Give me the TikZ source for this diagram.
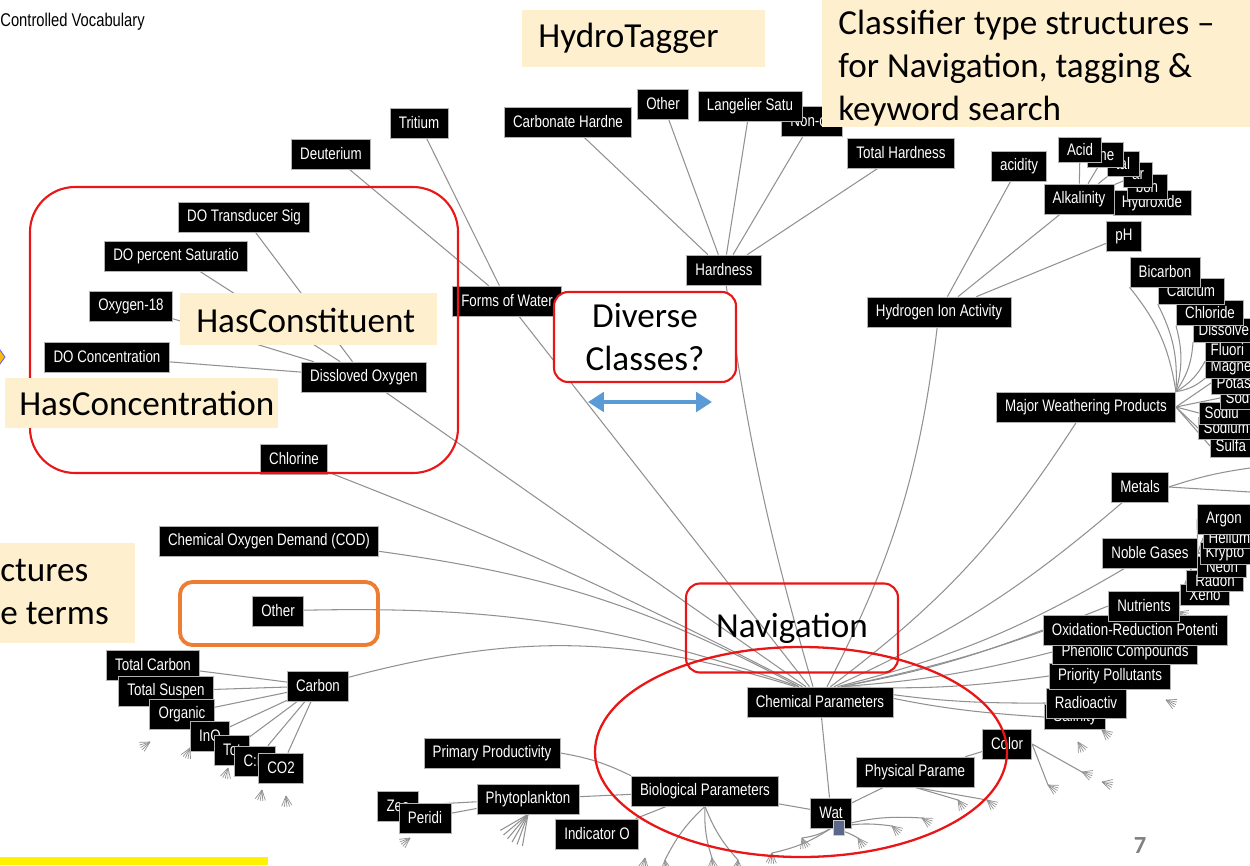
\documentclass[tikz,border=0pt]{standalone}
\usepackage{fontspec}
\newfontfamily\termfont[FakeStretch=0.8]{Liberation Sans}
\newfontfamily\slidefont{Carlito}
\usetikzlibrary{arrows.meta}
\usetikzlibrary{backgrounds}
\definecolor{calloutfill}{RGB}{254,240,206}
\definecolor{ringred}{RGB}{232,22,22}
\definecolor{otherorange}{RGB}{237,125,49}
\definecolor{arrowblue}{RGB}{91,155,213}
\definecolor{linkgray}{RGB}{145,145,145}
\definecolor{rootblue}{RGB}{90,104,140}

\begin{document}
\begin{tikzpicture}[x=0.02cm, y=-0.02cm,
    term/.style={draw=gray!60, fill=black, text=white, inner xsep=5pt, inner ysep=2pt,
      minimum height=0.6cm, font=\termfont\fontsize{9.5}{10}\selectfont},
    edgeterm/.style={term, anchor=west, inner xsep=3pt, text width=1.3cm, align=left},
    link/.style={draw=linkgray, line width=0.6pt},
    slide/.style={inner sep=0pt, font=\slidefont\fontsize{20}{24.4}\selectfont},
    ring/.style={draw=ringred, line width=1.2pt, rounded corners=8pt}]
    \useasboundingbox (0,0) rectangle (1250,865);
    \clip (0,0) rectangle (1250,865);

    % hardness branch
    \node[term] (carbHard) at (568,122) {Carbonate Hardne};
    \node[term] (otherTop) at (663,104) {Other};
    \node[term] (nonCarb) at (812,121) {Non-ca};
    \node[term] (langelier) at (750,106) {Langelier Satu};
    \node[term] (totHard) at (901,153) {Total Hardness};
    \node[term] (hardness) at (724,270) {Hardness};

    % forms of water
    \node[term] (tritium) at (419,123) {Tritium};
    \node[term] (deuterium) at (331,154) {Deuterium};
    \node[term] (forms) at (507,301) {Forms of Water};

    % dissolved oxygen
    \node[term] (doTrans) at (244,217) {DO Transducer Sig};
    \node[term] (doPerc) at (176,256) {DO percent Saturatio};
    \node[term] (oxy18) at (131,306) {Oxygen-18};
    \node[term] (doConc) at (107,357) {DO Concentration};
    \node[term] (disOxy) at (364,377) {Dissloved Oxygen};
    \node[term] (chlorine) at (294,459) {Chlorine};
    \node[term] (cod) at (269,541) {Chemical Oxygen Demand (COD)};
    \node[term] (otherLeft) at (278,611) {Other};

    % carbon
    \node[term] (carbon) at (318,686) {Carbon};
    \node[term] (totCarb) at (153,665) {Total Carbon};
    \node[term] (totSusp) at (166,691) {Total Suspen};
    \node[term] (organic) at (182,714) {Organic};
    \node[term] (inorg) at (210,736) {InO};
    \node[term] (totC) at (232,750) {Tot};
    \node[term] (cnRatio) at (255,761) {C:N};
    \node[term] (coTwo) at (281,768) {CO2};

    % hydrogen ion activity
    \node[term] (hIon) at (939,312) {Hydrogen Ion Activity};
    \node[term] (acidity) at (1019,166) {acidity};
    \node[term, minimum height=0.5cm] (hydroxide) at (1152,203) {Hydroxide};
    \node[term, minimum height=0.5cm] (alkBon) at (1147,187) {bon};
    \node[term, minimum height=0.5cm] (alkAr) at (1138,175) {ar};
    \node[term, minimum height=0.5cm] (alkTal) at (1123,164) {tal};
    \node[term, minimum height=0.5cm] (alkThe) at (1105,155) {the};
    \node[term, minimum height=0.5cm] (acid) at (1080,150) {Acid};
    \node[term] (alkalinity) at (1079,199) {Alkalinity};
    \node[term] (ph) at (1124,236) {pH};

    % major weathering products
    \node[edgeterm, minimum height=0.44cm] (sulfa) at (1210,446) {Sulfa};
    \node[edgeterm, minimum height=0.44cm] (sodiumB) at (1198,428) {Sodium};
    \node[edgeterm, minimum height=0.44cm] (sodiumA) at (1199,413) {Sodiu};
    \node[edgeterm, minimum height=0.44cm] (sodAds) at (1220,398) {Sod};
    \node[edgeterm, minimum height=0.44cm] (potas) at (1211,383) {Potas};
    \node[edgeterm, minimum height=0.44cm] (magne) at (1205,367) {Magne};
    \node[edgeterm, minimum height=0.44cm] (fluor) at (1205,350) {Fluori};
    \node[edgeterm, minimum height=0.48cm] (dissSil) at (1193,330) {Dissolve};
    \node[term, minimum height=0.5cm] (chloride) at (1210,313) {Chloride};
    \node[term, minimum height=0.52cm] (calcium) at (1191,291) {Calcium};
    \node[term] (bicarb) at (1165,272) {Bicarbon};
    \node[term] (mwp) at (1086,407) {Major Weathering Products};
    \node[term] (metals) at (1140,487) {Metals};
    \coordinate (metalsEdgeA) at (1250,468);
    \coordinate (metalsEdgeB) at (1250,492);

    % noble gases
    \node[term, minimum height=0.42cm] (xenon) at (1205,595) {Xeno};
    \node[term, minimum height=0.42cm] (radon) at (1215,581) {Radon};
    \node[term, minimum height=0.42cm] (neon) at (1222,567) {Neon};
    \node[edgeterm, minimum height=0.42cm] (krypton) at (1200,553) {Krypto};
    \node[edgeterm, minimum height=0.42cm] (helium) at (1203,538) {Helium};
    \node[term] (argon) at (1224,519) {Argon};
    \node[term] (noble) at (1150,553) {Noble Gases};

    % lower right stack
    \node[term, minimum height=0.5cm] (salinity) at (1075,717) {Salinity};
    \node[term] (radio) at (1086,703) {Radioactiv};
    \node[term, minimum height=0.52cm] (priority) at (1110,676) {Priority Pollutants};
    \node[term, minimum height=0.5cm] (phenolic) at (1125,652) {Phenolic Compounds};
    \node[term] (redox) at (1135,630) {Oxidation-Reduction Potenti};
    \node[term] (nutrients) at (1144,606) {Nutrients};

    % root and main classes
    \node[term] (chem) at (820,702) {Chemical Parameters};
    \node[term] (bio) at (705,791) {Biological Parameters};
    \node[term] (phys) at (915,772) {Physical Parame};
    \node[term] (color) at (1007,744) {Color};
    \node[term] (wat) at (831,813) {Wat};
    \fill[rootblue, draw=gray!40] (833,820) rectangle (844,835);

    % biological
    \node[term] (primary) at (492,753) {Primary Productivity};
    \node[term] (phyto) at (528,799) {Phytoplankton};
    \node[term] (zea) at (398,806) {Zea};
    \node[term] (peridi) at (425,818) {Peridi};
    \node[term] (indicator) at (597,834) {Indicator O};

    \begin{scope}[on background layer]
        % connectors
        \foreach \kid in {carbHard, otherTop, langelier, nonCarb, totHard}
            \draw[link] (\kid) -- (hardness);
        \foreach \kid in {tritium, deuterium}
            \draw[link] (\kid) -- (forms);
        \foreach \kid in {doTrans, doPerc, oxy18, doConc}
            \draw[link] (\kid) -- (disOxy);
        \foreach \kid in {totCarb, totSusp, organic, inorg, totC, cnRatio, coTwo}
            \draw[link] (\kid) -- (carbon);
        \foreach \kid in {acidity, alkalinity, ph}
            \draw[link] (\kid) -- (hIon);
        \foreach \kid in {acid, alkThe, alkTal, alkAr, alkBon, hydroxide}
            \draw[link] (\kid) -- (alkalinity);
        \foreach \kid in {bicarb, calcium, chloride, dissSil, fluor, magne}
            \draw[link] (\kid.south west) to[bend left=15] (mwp.north east);
        \foreach \kid in {potas, sodAds, sodiumA, sodiumB, sulfa}
            \draw[link] (\kid.west) -- (mwp.east);
        \foreach \kid in {argon, helium, krypton, neon, radon, xenon}
            \draw[link] (\kid.west) -- (noble.east);
        \draw[link] (metals.east) to[bend left=5] (metalsEdgeA);
        \draw[link] (metals.east) -- (metalsEdgeB);

        \draw[link] (hardness) to[bend right=4] ([xshift=-4pt]chem.north);
        \draw[link] (forms) -- ([xshift=-6pt]chem.north);
        \draw[link] (disOxy) -- ([xshift=-8pt]chem.north);
        \draw[link] (chlorine) to[bend left=3] ([xshift=-10pt]chem.north);
        \draw[link] (cod) to[bend left=10] ([xshift=-12pt]chem.north);
        \draw[link] (otherLeft) to[bend left=10] ([xshift=-12pt]chem.north);
        \draw[link] (carbon) to[bend left=16] ([xshift=-14pt]chem.north);
        \draw[link] (hIon) to[bend left=10] ([xshift=4pt]chem.north);
        \draw[link] (mwp) to[bend left=10] ([xshift=6pt]chem.north);
        \draw[link] (metals) to[bend left=8] ([xshift=8pt]chem.north);
        \draw[link] (noble) to[bend left=8] ([xshift=10pt]chem.north);
        \foreach \kid in {nutrients, redox, phenolic, priority, radio, salinity}
            \draw[link] (\kid.west) to[bend left=5] ([xshift=12pt]chem.north);

        \foreach \kid in {chem, bio, phys}
            \draw[link] (wat) -- (\kid);
        \draw[link] (primary.east) to[bend left=8] (bio.north west);
        \draw[link] (phyto) -- (bio);
        \draw[link] (indicator) -- (bio);
        \draw[link] (zea) -- (phyto);
        \draw[link] (peridi) -- (phyto);
        \draw[link] (color) -- (phys);

        % small leaf fans at the rim
        \foreach \n/\fx/\fy/\fa in {a/150/742/150, b/190/748/115, c/228/768/105, d/262/790/100,
            e/286/796/85, f/410/838/145, g/645/858/100, h/665/860/85, i/712/858/85, j/738/860/95,
            k/772/853/95, l/802/838/70, m/858/838/55, n/892/826/40, o/922/818/30, p/958/800/55,
            q/987/800/40, r/1048/785/30, s/1082/772/20, t/1102/782/15, u/1078/742/60,
            v/1102/730/40, w/1178/612/20, x/1166/700/25} {
            \coordinate (fan\n) at (\fx,\fy);
            \foreach \k in {-2,...,2}
                \draw[link, line width=0.4pt] (fan\n) -- ++({\fa+\k*14}:11);
        }
        \foreach \n in {h, i, j}
            \draw[link] (bio.south) to[bend right=10] (fan\n);
        \foreach \n in {k, l, m, n, o}
            \draw[link] (wat.south) to[bend left=10] (fan\n);
        \foreach \n in {p, q}
            \draw[link] (phys.south) -- (fan\n);
        \foreach \n in {r, s}
            \draw[link] (color.east) -- (fan\n);
        \foreach \a in {100,110,...,150}
            \draw[link] (phyto.south) -- ++(\a:32);
    \end{scope}

    % red and orange frames
    \draw[ring, rounded corners=0.9cm] (30,187) rectangle (458,473);
    \draw[draw=otherorange, line width=2.2pt, rounded corners=0.25cm] (180,582) rectangle (378,645);
    \draw[draw=ringred, line width=1.3pt] (801,752) ellipse [x radius=206, y radius=105];

    % slide callouts
    \fill[calloutfill] (522,10) rectangle (765,67);
    \node[slide, anchor=west] (hydroTagger) at (538,38) {HydroTagger};
    \fill[calloutfill] (822,0) rectangle (1250,127);
    \node[slide, anchor=north west, align=left] (classifier) at (838,10)
        {Classifier type structures –\\for Navigation, tagging \&\\keyword search};
    \fill[calloutfill] (180,293) rectangle (437,345);
    \node[slide, anchor=west] (hasConstituent) at (196,320) {HasConstituent};
    \fill[calloutfill] (5,378) rectangle (278,428);
    \node[slide, anchor=west] (hasConcentration) at (19,403) {HasConcentration};
    \fill[calloutfill] (0,543) rectangle (135,643);
    \node[slide, anchor=north west, align=left] (structTerms) at (0,559) {ctures\\e terms};

    \node[ring, fill=white, minimum width=3.64cm, minimum height=1.8cm, align=center,
        font=\slidefont\fontsize{20}{24.4}\selectfont] (diverse) at (645,337) {Diverse\\Classes?};
    \node[ring, minimum width=4.24cm, minimum height=1.78cm,
        font=\slidefont\fontsize{20}{24.4}\selectfont] (navigation) at (792,628) {Navigation};
    \coordinate (spanL) at (588,402);
    \coordinate (spanR) at (712,402);
    \draw[{Triangle[length=9pt,width=11pt]}-{Triangle[length=9pt,width=11pt]}, arrowblue, line width=2.8pt]
        (spanL) -- (spanR);

    % page furniture
    \node[anchor=west, inner sep=0pt, font=\termfont\fontsize{10.5}{11}\selectfont] (vocab) at (0,22) {Controlled Vocabulary};
    \fill[yellow!50!orange, draw=blue!60, line width=0.5pt] (-5,357) -- (0,350) -- (5,357) -- (0,364) -- cycle;
    \node[text=gray, font=\slidefont\bfseries\fontsize{14}{16}\selectfont] (pageNo) at (1140,846) {7};
    \fill[yellow] (0,857) rectangle (268,865);
\end{tikzpicture}
\end{document}
